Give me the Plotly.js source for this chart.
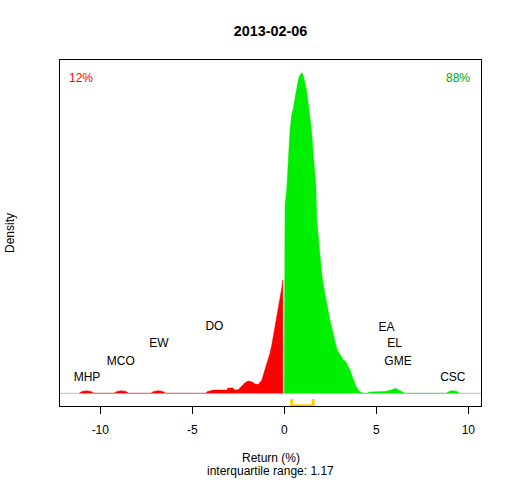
<!DOCTYPE html>
<html><head><meta charset="utf-8">
<script src="https://cdn.plot.ly/plotly-3.0.1.min.js"></script>
<style>html,body{margin:0;padding:0;background:#fff}#chart{width:512px;height:480px}</style>
</head><body><div id="chart"></div>
<script>
// Density of returns below zero (red)
const negX = [-11.15,-11.0,-10.75,-10.5,-10.35,-9.25,-9.1,-8.85,-8.6,-8.45,-7.25,-7.1,-6.85,-6.6,-6.45,
  -4.25,-4.2,-3.86,-3.13,-3.05,-2.8,-2.68,-2.5,-2.32,-2.14,-1.96,-1.77,-1.59,-1.41,-1.23,-1.14,-1.05,-0.96,-0.87,-0.78,-0.68,-0.60,-0.51,-0.41,-0.33,-0.23,-0.14,-0.08,-0.08];
const negY = [0,0.006,0.008,0.006,0,0,0.006,0.008,0.006,0,0,0.006,0.008,0.006,0,
  0,0.005,0.010,0.010,0.0166,0.0166,0.010,0.011,0.023,0.033,0.038,0.036,0.029,0.028,0.040,0.057,0.068,0.088,0.104,0.125,0.151,0.177,0.203,0.234,0.255,0.297,0.328,0.354,0];
// Density of returns above zero (green)
const posX = [0,0,0.04,0.13,0.22,0.31,0.40,0.49,0.58,0.67,0.76,0.85,0.95,1.03,1.13,1.22,1.30,1.40,1.49,1.58,1.67,1.72,1.76,1.85,1.94,2.03,2.12,2.21,2.30,2.39,2.48,2.58,2.66,2.76,2.85,2.93,3.03,3.12,3.21,3.30,3.39,3.48,3.57,3.66,3.75,3.84,3.93,4.02,4.11,4.29,
  4.55,4.6,5.0,5.5,5.8,6.05,6.3,6.56,8.8,9.0,9.15,9.4,9.5];
const posY = [0,0.462,0.587,0.634,0.748,0.821,0.868,0.889,0.920,0.951,0.977,0.993,1.0,0.993,0.967,0.941,0.905,0.858,0.811,0.744,0.681,0.64,0.546,0.484,0.421,0.374,0.338,0.307,0.286,0.255,0.229,0.203,0.182,0.161,0.140,0.130,0.120,0.111,0.104,0.101,0.094,0.083,0.073,0.057,0.042,0.028,0.018,0.010,0.005,0,
  0,0.004,0.005,0.006,0.010,0.0156,0.008,0,0,0.007,0.008,0.006,0];
// Extreme stocks
const stockNames = ["MHP","MCO","EW","DO","EA","EL","GME","CSC"];
const stockX = [-10.72,-8.89,-6.82,-3.80,5.56,6.00,6.18,9.16];
const stockY = [0.049,0.099,0.153,0.206,0.205,0.153,0.099,0.049];
// Ticks
const tickVals = [-10,-5,0,5,10];
const tickLabels = ["-10","-5","0","5","10"];
// Quartiles and shares
const quartiles = [0.40,1.57];
const iqrText = "1.17";
const shareNeg = "12%";
const sharePos = "88%";

const font = "Liberation Sans, Arial, sans-serif";

const traces = [
  {x: negX, y: negY, type: 'scatter', mode: 'lines', fill: 'tozeroy', fillcolor: '#FF0000',
   line: {color: '#FF0000', width: 0.5}, hoverinfo: 'skip'},
  {x: posX, y: posY, type: 'scatter', mode: 'lines', fill: 'tozeroy', fillcolor: '#00EE00',
   line: {color: '#00EE00', width: 0.5}, hoverinfo: 'skip'},
  {x: [quartiles[0],quartiles[0],quartiles[1],quartiles[1]], y: [-0.018,-0.0385,-0.0385,-0.018],
   type: 'scatter', mode: 'lines', line: {color: '#FFD000', width: 3}, cliponaxis: false, hoverinfo: 'skip'},
  {x: stockX, y: stockY, text: stockNames, type: 'scatter', mode: 'text',
   textfont: {family: font, size: 12, color: '#000'}, textposition: 'middle center', hoverinfo: 'skip'}
];

const layout = {
  width: 512, height: 480,
  margin: {l: 60, r: 31, t: 60, b: 74},
  paper_bgcolor: '#fff', plot_bgcolor: '#fff',
  showlegend: false,
  font: {family: font, size: 12, color: '#000'},
  title: {text: '<b>2013-02-06</b>', font: {family: font, size: 14.4, color: '#000'},
          x: 0.5, xref: 'paper', xanchor: 'center', y: 1 - 31/480, yref: 'container', yanchor: 'middle'},
  xaxis: {range: [-12.19, 10.69], showgrid: false, zeroline: false, showline: true, mirror: true,
          linecolor: '#000', linewidth: 1, ticks: 'outside', ticklen: 7, tickcolor: '#000', tickwidth: 1,
          tickmode: 'array', tickvals: tickVals, ticktext: tickLabels, ticklabelstandoff: 6,
          tickfont: {family: font, size: 12, color: '#000'}},
  yaxis: {range: [-0.0396, 1.0396], showgrid: false, zeroline: false, showline: true, mirror: true,
          linecolor: '#000', linewidth: 1, ticks: '', showticklabels: false},
  shapes: [
    {type: 'line', xref: 'paper', yref: 'y', x0: 0, x1: 1, y0: 0, y1: 0,
     line: {color: '#BEBEBE', width: 1}, layer: 'below'}
  ],
  annotations: [
    {text: shareNeg, xref: 'paper', yref: 'paper', x: 0.0166, y: 0.949, xanchor: 'left', yanchor: 'middle',
     showarrow: false, font: {family: font, size: 12, color: '#FF0000'}},
    {text: sharePos, xref: 'paper', yref: 'paper', x: 0.9786, y: 0.949, xanchor: 'right', yanchor: 'middle',
     showarrow: false, font: {family: font, size: 12, color: '#00A800'}},
    {text: 'Density', xref: 'paper', yref: 'paper', x: (10-60)/421, y: 0.5, textangle: -90,
     xanchor: 'center', yanchor: 'middle', showarrow: false, font: {family: font, size: 12, color: '#000'}},
    {text: 'Return (%)', xref: 'paper', yref: 'paper', x: 0.5, y: (406-458)/346, xanchor: 'center', yanchor: 'middle',
     showarrow: false, font: {family: font, size: 12, color: '#000'}},
    {text: 'interquartile range: ' + iqrText, xref: 'paper', yref: 'paper', x: 0.5, y: (406-471)/346,
     xanchor: 'center', yanchor: 'middle', showarrow: false, font: {family: font, size: 12, color: '#000'}}
  ]
};

Plotly.newPlot('chart', traces, layout, {staticPlot: true, displayModeBar: false});
</script></body></html>
